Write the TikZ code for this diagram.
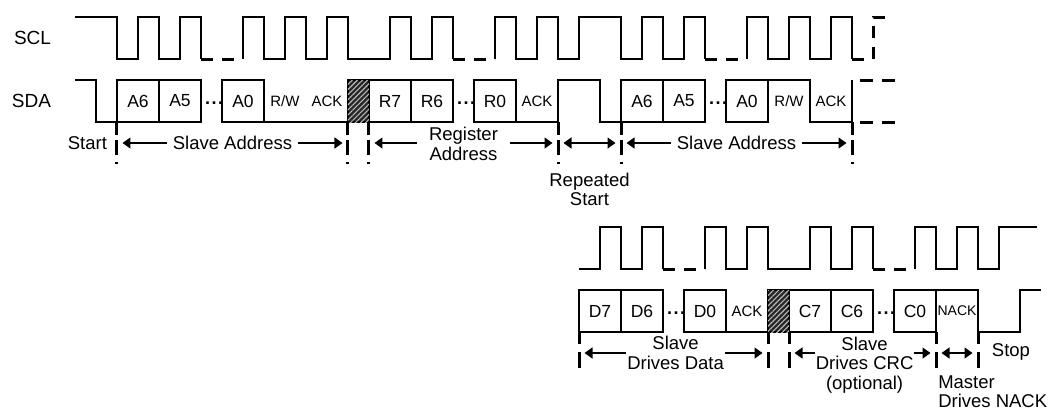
\documentclass[tikz,border=0pt]{standalone}
\usepackage{fontspec}
\setmainfont{Liberation Sans}
\usetikzlibrary{arrows.meta,patterns.meta}

\begin{document}
\begin{tikzpicture}[x=21pt,y=-21pt,
    wave/.style={line width=1.4pt},
    bitbox/.style={line width=1.4pt},
    cont/.style={line width=3pt,dash pattern=on 12pt off 9pt},
    hatch/.style={draw,line width=1.4pt,fill=black!85,
      postaction={pattern color=gray!55,pattern={Lines[angle=45,distance=3.6pt,line width=1.1pt]}}},
    guide/.style={line width=3pt,dash pattern=on 13pt off 5pt on 15pt off 7pt on 1.5pt off 20pt},
    guidelow/.style={line width=3pt,dash pattern=on 12pt off 8pt on 16pt off 20pt},
    span/.style={line width=1.3pt,{Triangle[length=8pt,width=11pt]}-{Triangle[length=8pt,width=11pt]},
      shorten <=5.5pt,shorten >=5.5pt},
    sig/.style={font=\fontsize{19}{19}\selectfont,anchor=west},
    bit/.style={font=\fontsize{17.5}{17.5}\selectfont},
    gap/.style={font=\bfseries\fontsize{18}{18}\selectfont},
    flag/.style={font=\fontsize{15}{15}\selectfont},
    note/.style={font=\fontsize{18.5}{19.5}\selectfont,align=center,fill=white,inner xsep=6pt,inner ysep=1pt}
  ]
  \useasboundingbox (-5.571,-0.81) rectangle (44.476,18.81);

  % signal names
  \node[sig] (scl) at (-5.07,1) {SCL};
  \node[sig] (sda) at (-5.17,4) {SDA};

  % upper SCL
  \draw[wave] (-2,0) -| (0,2) -| (1,0) -| (2,2) -| (3,0) -| (4,2);
  \draw[wave] (6,2) -- (6,0) -| (7,2) -| (8,0) -| (9,2) -| (10,0) -| (11,2) -| (13,0) -| (14,2) -| (15,0) -| (16,2);
  \draw[wave] (18,2) -- (18,0) -| (19,2) -| (20,0) -| (21,2) -| (22,0) -| (24,2) -| (25,0) -| (26,2) -| (27,0) -| (28,2);
  \draw[wave] (30,2) -- (30,0) -| (31,2) -| (32,0) -| (33,2) -| (34,0) -| (35,2);
  \draw[cont] (4,2) -- (6,2) (16,2) -- (18,2) (28,2) -- (30,2);
  \draw[cont] (35,2) -| (36,0) -- (36.67,0);

  % upper SDA
  \draw[wave] (-2,3) -| (-1,5) -- (0,5);
  \foreach \k in {0,2,5,12,14,17,24,26,29} \draw[bitbox] (\k,3) rectangle +(2,2);
  \draw[hatch] (11,3) rectangle (12,5);
  \draw[wave] (7,5) -- (11,5) (19,5) -- (21,5) -- (21,3) -| (23,5) -- (24,5);
  \draw[wave] (31,3) -- (33,3) -- (33,5) -- (35,5) -- (35,3);
  \draw[cont,dash pattern=on 13pt off 9pt] (35.38,3) -- (37.05,3) (35.38,5) -- (37.05,5);

  \foreach \k/\t in {0/A6,2/A5,5/A0,12/R7,14/R6,17/R0,24/A6,26/A5,29/A0}
    \node[bit] (u\k) at (\k+1,4) {\t};
  \node[gap] (udots1) at (4.62,4.1) {.\hspace{1.5pt}.\hspace{1.5pt}.};
  \node[gap] (udots2) at (16.62,4.1) {.\hspace{1.5pt}.\hspace{1.5pt}.};
  \node[gap] (udots3) at (28.62,4.1) {.\hspace{1.5pt}.\hspace{1.5pt}.};
  \node[flag] (urw1) at (8,4) {R/W};
  \node[flag] (uack1) at (10,4) {ACK};
  \node[flag] (uack2) at (20,4) {ACK};
  \node[flag] (urw2) at (32,4) {R/W};
  \node[flag] (uack3) at (34,4) {ACK};

  % upper markers and spans
  \foreach \k in {0,11,12,21,24,35} {
    \draw[guide] (\k,5) -- (\k,7);
    \coordinate (m\k) at (\k,6);
  }
  \draw[span] (m0) -- (m11);
  \draw[span] (m12) -- (m21);
  \draw[span] (m21) -- (m24);
  \draw[span] (m24) -- (m35);
  \node[note,fill=none,anchor=east,inner sep=1.5pt] (start) at (-0.4,6) {Start};
  \node[note] (addr1) at (5.5,6) {Slave Address};
  \node[note,inner xsep=12pt] (reg) at (16.5,6.05) {Register\\Address};
  \node[note,fill=none] (rstart) at (22.5,8.2) {Repeated\\Start};
  \node[note] (addr2) at (29.5,6) {Slave Address};

  % lower SCL
  \draw[wave] (22,12) -| (23,10) -| (24,12) -| (25,10) -| (26,12);
  \draw[wave] (28,12) -- (28,10) -| (29,12) -| (30,10) -| (31,12) -| (33,10) -| (34,12) -| (35,10) -| (36,12);
  \draw[wave] (38,12) -- (38,10) -| (39,12) -| (40,10) -| (41,12) -| (42,10) -- (43.8,10);
  \draw[cont] (26,12) -- (28,12) (36,12) -- (38,12);

  % lower SDA
  \foreach \k in {22,24,27,32,34,37} \draw[bitbox] (\k,13) rectangle +(2,2);
  \draw[hatch] (31,13) rectangle (32,15);
  \draw[wave] (29,15) -- (31,15) (39,13) -- (41,13) -- (41,15) -| (43,13) -- (44,13);

  \foreach \k/\t in {22/D7,24/D6,27/D0,32/C7,34/C6,37/C0}
    \node[bit] (l\k) at (\k+1,14) {\t};
  \node[gap] (ldots1) at (26.62,14.1) {.\hspace{1.5pt}.\hspace{1.5pt}.};
  \node[gap] (ldots2) at (36.62,14.1) {.\hspace{1.5pt}.\hspace{1.5pt}.};
  \node[flag] (lack) at (30,14) {ACK};
  \node[flag,font=\fontsize{14}{14}\selectfont] (lnack) at (40,14) {NACK};

  % lower markers and spans
  \foreach \k in {22,31,32,39,41} {
    \draw[guidelow] (\k,15) -- (\k,16.75);
    \coordinate (n\k) at (\k,16);
  }
  \draw[span] (n22) -- (n31);
  \draw[span] (n32) -- (n39);
  \draw[span] (n39) -- (n41);
  \node[note,inner xsep=1pt] (data) at (26.6,16) {Slave\\Drives Data};
  \node[note,inner xsep=1pt] (crc) at (35.6,16.57) {Slave\\Drives CRC\\(optional)};
  \node[note,fill=none,anchor=west,align=left,inner sep=1pt] (mnack) at (39.05,17.85) {Master\\Drives NACK};
  \node[note,fill=none] (stop) at (42.57,15.95) {Stop};
\end{tikzpicture}
\end{document}
